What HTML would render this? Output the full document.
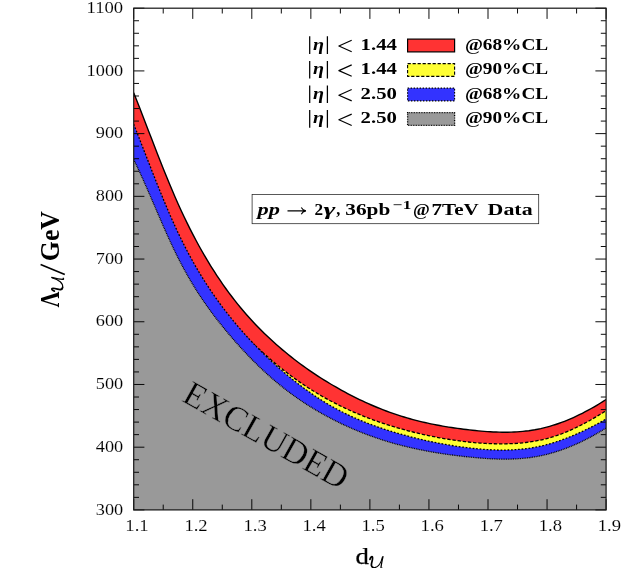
<!DOCTYPE html>
<html><head><meta charset="utf-8"><title>Unparticle exclusion plot</title>
<style>html,body{margin:0;padding:0;background:#fff;}svg{display:block;}text{font-family:"Liberation Serif",serif;fill:#000;}.b{font-weight:bold;}.i{font-style:italic;}</style></head><body>
<svg style="will-change:transform" width="623" height="568" viewBox="0 0 623 568">
<rect x="0" y="0" width="623" height="568" fill="#fff"/>
<defs><clipPath id="cp"><rect x="133.7" y="8.2" width="472.40" height="501.70"/></clipPath></defs>
<g clip-path="url(#cp)">
<path d="M133.70,92.71 L136.67,100.23 L139.64,107.83 L142.61,115.49 L145.58,123.18 L148.56,130.89 L151.53,138.60 L154.50,146.27 L157.47,153.90 L160.44,161.46 L163.41,168.93 L166.38,176.28 L169.35,183.50 L172.32,190.57 L175.29,197.46 L178.27,204.16 L181.24,210.67 L184.21,216.99 L187.18,223.13 L190.15,229.09 L193.12,234.88 L196.09,240.51 L199.06,245.97 L202.03,251.27 L205.01,256.41 L207.98,261.41 L210.95,266.26 L213.92,270.97 L216.89,275.54 L219.86,279.98 L222.83,284.29 L225.80,288.48 L228.77,292.56 L231.75,296.51 L234.72,300.36 L237.69,304.09 L240.66,307.72 L243.63,311.25 L246.60,314.69 L249.57,318.03 L252.54,321.28 L255.51,324.44 L258.48,327.52 L261.46,330.52 L264.43,333.45 L267.40,336.30 L270.37,339.08 L273.34,341.80 L276.31,344.46 L279.28,347.06 L282.25,349.60 L285.22,352.08 L288.20,354.51 L291.17,356.89 L294.14,359.21 L297.11,361.48 L300.08,363.70 L303.05,365.88 L306.02,368.01 L308.99,370.09 L311.96,372.13 L314.94,374.12 L317.91,376.07 L320.88,377.98 L323.85,379.86 L326.82,381.69 L329.79,383.49 L332.76,385.26 L335.73,386.98 L338.70,388.68 L341.67,390.34 L344.65,391.96 L347.62,393.55 L350.59,395.10 L353.56,396.62 L356.53,398.10 L359.50,399.55 L362.47,400.96 L365.44,402.34 L368.41,403.68 L371.39,404.99 L374.36,406.26 L377.33,407.49 L380.30,408.69 L383.27,409.86 L386.24,410.99 L389.21,412.08 L392.18,413.14 L395.15,414.16 L398.13,415.15 L401.10,416.10 L404.07,417.01 L407.04,417.90 L410.01,418.74 L412.98,419.56 L415.95,420.34 L418.92,421.09 L421.89,421.82 L424.86,422.51 L427.84,423.17 L430.81,423.81 L433.78,424.41 L436.75,425.00 L439.72,425.55 L442.69,426.08 L445.66,426.59 L448.63,427.08 L451.60,427.54 L454.58,427.98 L457.55,428.41 L460.52,428.81 L463.49,429.19 L466.46,429.56 L469.43,429.90 L472.40,430.24 L475.37,430.55 L478.34,430.84 L481.32,431.12 L484.29,431.36 L487.26,431.58 L490.23,431.78 L493.20,431.94 L496.17,432.07 L499.14,432.16 L502.11,432.22 L505.08,432.23 L508.05,432.21 L511.03,432.14 L514.00,432.03 L516.97,431.87 L519.94,431.65 L522.91,431.39 L525.88,431.07 L528.85,430.70 L531.82,430.26 L534.79,429.77 L537.77,429.21 L540.74,428.59 L543.71,427.90 L546.68,427.15 L549.65,426.33 L552.62,425.44 L555.59,424.50 L558.56,423.49 L561.53,422.42 L564.51,421.28 L567.48,420.09 L570.45,418.84 L573.42,417.53 L576.39,416.17 L579.36,414.74 L582.33,413.26 L585.30,411.73 L588.27,410.14 L591.24,408.49 L594.22,406.80 L597.19,405.05 L600.16,403.25 L603.13,401.40 L606.10,399.50 L606.10,509.90 L133.70,509.90 Z" fill="#ff3333"/>
<path d="M133.70,92.71 L136.67,100.23 L139.64,107.83 L142.61,115.49 L145.58,123.18 L148.56,130.89 L151.53,138.60 L154.50,146.27 L157.47,153.90 L160.44,161.46 L163.41,168.93 L166.38,176.28 L169.35,183.50 L172.32,190.57 L175.29,197.46 L178.27,204.16 L181.24,210.67 L184.21,216.99 L187.18,223.13 L190.15,229.09 L193.12,234.88 L196.09,240.51 L199.06,245.97 L202.03,251.27 L205.01,256.41 L207.98,261.41 L210.95,266.26 L213.92,270.97 L216.89,275.54 L219.86,279.98 L222.83,284.29 L225.80,288.48 L228.77,292.56 L231.75,296.51 L234.72,300.36 L237.69,304.09 L240.66,307.72 L243.63,311.25 L246.60,314.69 L249.57,318.03 L252.54,321.28 L255.51,324.44 L258.48,327.52 L261.46,330.52 L264.43,333.45 L267.40,336.30 L270.37,339.08 L273.34,341.80 L276.31,344.46 L279.28,347.06 L282.25,349.60 L285.22,352.08 L288.20,354.51 L291.17,356.89 L294.14,359.21 L297.11,361.48 L300.08,363.70 L303.05,365.88 L306.02,368.01 L308.99,370.09 L311.96,372.13 L314.94,374.12 L317.91,376.07 L320.88,377.98 L323.85,379.86 L326.82,381.69 L329.79,383.49 L332.76,385.26 L335.73,386.98 L338.70,388.68 L341.67,390.34 L344.65,391.96 L347.62,393.55 L350.59,395.10 L353.56,396.62 L356.53,398.10 L359.50,399.55 L362.47,400.96 L365.44,402.34 L368.41,403.68 L371.39,404.99 L374.36,406.26 L377.33,407.49 L380.30,408.69 L383.27,409.86 L386.24,410.99 L389.21,412.08 L392.18,413.14 L395.15,414.16 L398.13,415.15 L401.10,416.10 L404.07,417.01 L407.04,417.90 L410.01,418.74 L412.98,419.56 L415.95,420.34 L418.92,421.09 L421.89,421.82 L424.86,422.51 L427.84,423.17 L430.81,423.81 L433.78,424.41 L436.75,425.00 L439.72,425.55 L442.69,426.08 L445.66,426.59 L448.63,427.08 L451.60,427.54 L454.58,427.98 L457.55,428.41 L460.52,428.81 L463.49,429.19 L466.46,429.56 L469.43,429.90 L472.40,430.24 L475.37,430.55 L478.34,430.84 L481.32,431.12 L484.29,431.36 L487.26,431.58 L490.23,431.78 L493.20,431.94 L496.17,432.07 L499.14,432.16 L502.11,432.22 L505.08,432.23 L508.05,432.21 L511.03,432.14 L514.00,432.03 L516.97,431.87 L519.94,431.65 L522.91,431.39 L525.88,431.07 L528.85,430.70 L531.82,430.26 L534.79,429.77 L537.77,429.21 L540.74,428.59 L543.71,427.90 L546.68,427.15 L549.65,426.33 L552.62,425.44 L555.59,424.50 L558.56,423.49 L561.53,422.42 L564.51,421.28 L567.48,420.09 L570.45,418.84 L573.42,417.53 L576.39,416.17 L579.36,414.74 L582.33,413.26 L585.30,411.73 L588.27,410.14 L591.24,408.49 L594.22,406.80 L597.19,405.05 L600.16,403.25 L603.13,401.40 L606.10,399.50" fill="none" stroke="#000" stroke-width="1.4"/>
<path d="M236.00,326.21 L238.87,329.24 L241.74,332.22 L244.61,335.15 L247.48,338.04 L250.34,340.87 L253.21,343.66 L256.08,346.39 L258.95,349.08 L261.82,351.72 L264.69,354.31 L267.56,356.85 L270.43,359.34 L273.30,361.79 L276.17,364.18 L279.03,366.53 L281.90,368.84 L284.77,371.09 L287.64,373.30 L290.51,375.46 L293.38,377.57 L296.25,379.64 L299.12,381.65 L301.99,383.63 L304.86,385.55 L307.72,387.43 L310.59,389.27 L313.46,391.06 L316.33,392.82 L319.20,394.52 L322.07,396.19 L324.94,397.82 L327.81,399.40 L330.68,400.95 L333.55,402.46 L336.41,403.93 L339.28,405.37 L342.15,406.77 L345.02,408.14 L347.89,409.47 L350.76,410.77 L353.63,412.03 L356.50,413.27 L359.37,414.47 L362.24,415.64 L365.10,416.79 L367.97,417.90 L370.84,418.99 L373.71,420.05 L376.58,421.08 L379.45,422.09 L382.32,423.07 L385.19,424.03 L388.06,424.96 L390.93,425.86 L393.79,426.74 L396.66,427.60 L399.53,428.43 L402.40,429.24 L405.27,430.03 L408.14,430.79 L411.01,431.53 L413.88,432.25 L416.75,432.94 L419.62,433.62 L422.48,434.27 L425.35,434.91 L428.22,435.52 L431.09,436.11 L433.96,436.68 L436.83,437.24 L439.70,437.77 L442.57,438.29 L445.44,438.78 L448.31,439.26 L451.17,439.72 L454.04,440.15 L456.91,440.57 L459.78,440.96 L462.65,441.33 L465.52,441.68 L468.39,442.00 L471.26,442.30 L474.13,442.58 L477.00,442.83 L479.86,443.05 L482.73,443.25 L485.60,443.42 L488.47,443.57 L491.34,443.68 L494.21,443.77 L497.08,443.83 L499.95,443.86 L502.82,443.86 L505.69,443.82 L508.55,443.75 L511.42,443.65 L514.29,443.51 L517.16,443.32 L520.03,443.10 L522.90,442.83 L525.77,442.51 L528.64,442.15 L531.51,441.73 L534.38,441.26 L537.24,440.73 L540.11,440.15 L542.98,439.51 L545.85,438.81 L548.72,438.04 L551.59,437.21 L554.46,436.31 L557.33,435.35 L560.20,434.33 L563.07,433.24 L565.93,432.10 L568.80,430.90 L571.67,429.64 L574.54,428.32 L577.41,426.95 L580.28,425.53 L583.15,424.06 L586.02,422.53 L588.89,420.96 L591.76,419.35 L594.62,417.68 L597.49,415.97 L600.36,414.23 L603.23,412.43 L606.10,410.60 L606.10,509.90 L236.00,509.90 Z" fill="#ffff33"/>
<path d="M236.00,326.21 L238.87,329.24 L241.74,332.22 L244.61,335.15 L247.48,338.04 L250.34,340.87 L253.21,343.66 L256.08,346.39 L258.95,349.08 L261.82,351.72 L264.69,354.31 L267.56,356.85 L270.43,359.34 L273.30,361.79 L276.17,364.18 L279.03,366.53 L281.90,368.84 L284.77,371.09 L287.64,373.30 L290.51,375.46 L293.38,377.57 L296.25,379.64 L299.12,381.65 L301.99,383.63 L304.86,385.55 L307.72,387.43 L310.59,389.27 L313.46,391.06 L316.33,392.82 L319.20,394.52 L322.07,396.19 L324.94,397.82 L327.81,399.40 L330.68,400.95 L333.55,402.46 L336.41,403.93 L339.28,405.37 L342.15,406.77 L345.02,408.14 L347.89,409.47 L350.76,410.77 L353.63,412.03 L356.50,413.27 L359.37,414.47 L362.24,415.64 L365.10,416.79 L367.97,417.90 L370.84,418.99 L373.71,420.05 L376.58,421.08 L379.45,422.09 L382.32,423.07 L385.19,424.03 L388.06,424.96 L390.93,425.86 L393.79,426.74 L396.66,427.60 L399.53,428.43 L402.40,429.24 L405.27,430.03 L408.14,430.79 L411.01,431.53 L413.88,432.25 L416.75,432.94 L419.62,433.62 L422.48,434.27 L425.35,434.91 L428.22,435.52 L431.09,436.11 L433.96,436.68 L436.83,437.24 L439.70,437.77 L442.57,438.29 L445.44,438.78 L448.31,439.26 L451.17,439.72 L454.04,440.15 L456.91,440.57 L459.78,440.96 L462.65,441.33 L465.52,441.68 L468.39,442.00 L471.26,442.30 L474.13,442.58 L477.00,442.83 L479.86,443.05 L482.73,443.25 L485.60,443.42 L488.47,443.57 L491.34,443.68 L494.21,443.77 L497.08,443.83 L499.95,443.86 L502.82,443.86 L505.69,443.82 L508.55,443.75 L511.42,443.65 L514.29,443.51 L517.16,443.32 L520.03,443.10 L522.90,442.83 L525.77,442.51 L528.64,442.15 L531.51,441.73 L534.38,441.26 L537.24,440.73 L540.11,440.15 L542.98,439.51 L545.85,438.81 L548.72,438.04 L551.59,437.21 L554.46,436.31 L557.33,435.35 L560.20,434.33 L563.07,433.24 L565.93,432.10 L568.80,430.90 L571.67,429.64 L574.54,428.32 L577.41,426.95 L580.28,425.53 L583.15,424.06 L586.02,422.53 L588.89,420.96 L591.76,419.35 L594.62,417.68 L597.49,415.97 L600.36,414.23 L603.23,412.43 L606.10,410.60" fill="none" stroke="#000" stroke-width="1.3" stroke-dasharray="3.4 1.8"/>
<path d="M133.70,124.24 L136.67,131.78 L139.64,139.36 L142.61,146.98 L145.58,154.60 L148.56,162.22 L151.53,169.80 L154.50,177.33 L157.47,184.78 L160.44,192.14 L163.41,199.39 L166.38,206.50 L169.35,213.45 L172.32,220.22 L175.29,226.79 L178.27,233.15 L181.24,239.30 L184.21,245.25 L187.18,251.00 L190.15,256.56 L193.12,261.95 L196.09,267.16 L199.06,272.21 L202.03,277.09 L205.01,281.83 L207.98,286.43 L210.95,290.89 L213.92,295.22 L216.89,299.43 L219.86,303.53 L222.83,307.52 L225.80,311.42 L228.77,315.22 L231.75,318.93 L234.72,322.56 L237.69,326.10 L240.66,329.56 L243.63,332.95 L246.60,336.25 L249.57,339.48 L252.54,342.64 L255.51,345.73 L258.48,348.76 L261.46,351.72 L264.43,354.62 L267.40,357.46 L270.37,360.25 L273.34,362.98 L276.31,365.66 L279.28,368.29 L282.25,370.88 L285.22,373.41 L288.20,375.89 L291.17,378.32 L294.14,380.70 L297.11,383.03 L300.08,385.31 L303.05,387.54 L306.02,389.71 L308.99,391.83 L311.96,393.90 L314.94,395.92 L317.91,397.89 L320.88,399.80 L323.85,401.66 L326.82,403.46 L329.79,405.21 L332.76,406.91 L335.73,408.55 L338.70,410.14 L341.67,411.68 L344.65,413.18 L347.62,414.62 L350.59,416.02 L353.56,417.38 L356.53,418.69 L359.50,419.96 L362.47,421.19 L365.44,422.39 L368.41,423.54 L371.39,424.66 L374.36,425.75 L377.33,426.81 L380.30,427.83 L383.27,428.82 L386.24,429.79 L389.21,430.73 L392.18,431.64 L395.15,432.53 L398.13,433.39 L401.10,434.24 L404.07,435.07 L407.04,435.87 L410.01,436.66 L412.98,437.42 L415.95,438.16 L418.92,438.89 L421.89,439.59 L424.86,440.27 L427.84,440.93 L430.81,441.57 L433.78,442.19 L436.75,442.79 L439.72,443.37 L442.69,443.92 L445.66,444.46 L448.63,444.97 L451.60,445.46 L454.58,445.93 L457.55,446.38 L460.52,446.80 L463.49,447.21 L466.46,447.59 L469.43,447.95 L472.40,448.28 L475.37,448.60 L478.34,448.89 L481.32,449.15 L484.29,449.38 L487.26,449.58 L490.23,449.75 L493.20,449.88 L496.17,449.99 L499.14,450.05 L502.11,450.07 L505.08,450.06 L508.05,450.00 L511.03,449.90 L514.00,449.75 L516.97,449.56 L519.94,449.31 L522.91,449.02 L525.88,448.67 L528.85,448.27 L531.82,447.82 L534.79,447.30 L537.77,446.73 L540.74,446.10 L543.71,445.41 L546.68,444.65 L549.65,443.84 L552.62,442.97 L555.59,442.04 L558.56,441.06 L561.53,440.03 L564.51,438.94 L567.48,437.81 L570.45,436.62 L573.42,435.39 L576.39,434.11 L579.36,432.79 L582.33,431.42 L585.30,430.01 L588.27,428.56 L591.24,427.07 L594.22,425.54 L597.19,423.98 L600.16,422.38 L603.13,420.74 L606.10,419.08 L606.10,509.90 L133.70,509.90 Z" fill="#3333ff"/>
<path d="M133.70,124.24 L136.67,131.78 L139.64,139.36 L142.61,146.98 L145.58,154.60 L148.56,162.22 L151.53,169.80 L154.50,177.33 L157.47,184.78 L160.44,192.14 L163.41,199.39 L166.38,206.50 L169.35,213.45 L172.32,220.22 L175.29,226.79 L178.27,233.15 L181.24,239.30 L184.21,245.25 L187.18,251.00 L190.15,256.56 L193.12,261.95 L196.09,267.16 L199.06,272.21 L202.03,277.09 L205.01,281.83 L207.98,286.43 L210.95,290.89 L213.92,295.22 L216.89,299.43 L219.86,303.53 L222.83,307.52 L225.80,311.42 L228.77,315.22 L231.75,318.93 L234.72,322.56 L237.69,326.10 L240.66,329.56 L243.63,332.95 L246.60,336.25 L249.57,339.48 L252.54,342.64 L255.51,345.73 L258.48,348.76 L261.46,351.72 L264.43,354.62 L267.40,357.46 L270.37,360.25 L273.34,362.98 L276.31,365.66 L279.28,368.29 L282.25,370.88 L285.22,373.41 L288.20,375.89 L291.17,378.32 L294.14,380.70 L297.11,383.03 L300.08,385.31 L303.05,387.54 L306.02,389.71 L308.99,391.83 L311.96,393.90 L314.94,395.92 L317.91,397.89 L320.88,399.80 L323.85,401.66 L326.82,403.46 L329.79,405.21 L332.76,406.91 L335.73,408.55 L338.70,410.14 L341.67,411.68 L344.65,413.18 L347.62,414.62 L350.59,416.02 L353.56,417.38 L356.53,418.69 L359.50,419.96 L362.47,421.19 L365.44,422.39 L368.41,423.54 L371.39,424.66 L374.36,425.75 L377.33,426.81 L380.30,427.83 L383.27,428.82 L386.24,429.79 L389.21,430.73 L392.18,431.64 L395.15,432.53 L398.13,433.39 L401.10,434.24 L404.07,435.07 L407.04,435.87 L410.01,436.66 L412.98,437.42 L415.95,438.16 L418.92,438.89 L421.89,439.59 L424.86,440.27 L427.84,440.93 L430.81,441.57 L433.78,442.19 L436.75,442.79 L439.72,443.37 L442.69,443.92 L445.66,444.46 L448.63,444.97 L451.60,445.46 L454.58,445.93 L457.55,446.38 L460.52,446.80 L463.49,447.21 L466.46,447.59 L469.43,447.95 L472.40,448.28 L475.37,448.60 L478.34,448.89 L481.32,449.15 L484.29,449.38 L487.26,449.58 L490.23,449.75 L493.20,449.88 L496.17,449.99 L499.14,450.05 L502.11,450.07 L505.08,450.06 L508.05,450.00 L511.03,449.90 L514.00,449.75 L516.97,449.56 L519.94,449.31 L522.91,449.02 L525.88,448.67 L528.85,448.27 L531.82,447.82 L534.79,447.30 L537.77,446.73 L540.74,446.10 L543.71,445.41 L546.68,444.65 L549.65,443.84 L552.62,442.97 L555.59,442.04 L558.56,441.06 L561.53,440.03 L564.51,438.94 L567.48,437.81 L570.45,436.62 L573.42,435.39 L576.39,434.11 L579.36,432.79 L582.33,431.42 L585.30,430.01 L588.27,428.56 L591.24,427.07 L594.22,425.54 L597.19,423.98 L600.16,422.38 L603.13,420.74 L606.10,419.08" fill="none" stroke="#000" stroke-width="1.3" stroke-dasharray="1.7 1.8"/>
<path d="M133.70,159.50 L136.67,165.64 L139.64,171.99 L142.61,178.52 L145.58,185.20 L148.56,191.98 L151.53,198.83 L154.50,205.72 L157.47,212.62 L160.44,219.49 L163.41,226.30 L166.38,233.00 L169.35,239.57 L172.32,245.98 L175.29,252.19 L178.27,258.17 L181.24,263.92 L184.21,269.47 L187.18,274.81 L190.15,279.96 L193.12,284.93 L196.09,289.73 L199.06,294.37 L202.03,298.85 L205.01,303.19 L207.98,307.40 L210.95,311.49 L213.92,315.46 L216.89,319.33 L219.86,323.11 L222.83,326.80 L225.80,330.42 L228.77,333.98 L231.75,337.47 L234.72,340.89 L237.69,344.25 L240.66,347.55 L243.63,350.77 L246.60,353.94 L249.57,357.03 L252.54,360.07 L255.51,363.04 L258.48,365.94 L261.46,368.78 L264.43,371.55 L267.40,374.26 L270.37,376.91 L273.34,379.49 L276.31,382.01 L279.28,384.47 L282.25,386.86 L285.22,389.19 L288.20,391.47 L291.17,393.68 L294.14,395.84 L297.11,397.95 L300.08,400.00 L303.05,402.00 L306.02,403.94 L308.99,405.84 L311.96,407.69 L314.94,409.49 L317.91,411.24 L320.88,412.96 L323.85,414.62 L326.82,416.25 L329.79,417.84 L332.76,419.38 L335.73,420.89 L338.70,422.36 L341.67,423.79 L344.65,425.19 L347.62,426.55 L350.59,427.87 L353.56,429.16 L356.53,430.41 L359.50,431.63 L362.47,432.81 L365.44,433.96 L368.41,435.08 L371.39,436.16 L374.36,437.22 L377.33,438.24 L380.30,439.23 L383.27,440.18 L386.24,441.11 L389.21,442.01 L392.18,442.88 L395.15,443.72 L398.13,444.53 L401.10,445.31 L404.07,446.07 L407.04,446.80 L410.01,447.50 L412.98,448.18 L415.95,448.83 L418.92,449.46 L421.89,450.07 L424.86,450.65 L427.84,451.21 L430.81,451.75 L433.78,452.27 L436.75,452.76 L439.72,453.24 L442.69,453.69 L445.66,454.13 L448.63,454.55 L451.60,454.96 L454.58,455.34 L457.55,455.71 L460.52,456.06 L463.49,456.40 L466.46,456.73 L469.43,457.04 L472.40,457.33 L475.37,457.62 L478.34,457.88 L481.32,458.13 L484.29,458.35 L487.26,458.55 L490.23,458.73 L493.20,458.88 L496.17,458.99 L499.14,459.08 L502.11,459.13 L505.08,459.15 L508.05,459.13 L511.03,459.07 L514.00,458.96 L516.97,458.81 L519.94,458.62 L522.91,458.37 L525.88,458.08 L528.85,457.73 L531.82,457.32 L534.79,456.86 L537.77,456.34 L540.74,455.76 L543.71,455.11 L546.68,454.40 L549.65,453.63 L552.62,452.80 L555.59,451.91 L558.56,450.96 L561.53,449.94 L564.51,448.87 L567.48,447.74 L570.45,446.55 L573.42,445.31 L576.39,444.01 L579.36,442.65 L582.33,441.23 L585.30,439.77 L588.27,438.24 L591.24,436.66 L594.22,435.03 L597.19,433.35 L600.16,431.61 L603.13,429.83 L606.10,427.99 L606.10,509.90 L133.70,509.90 Z" fill="#999999"/>
<path d="M133.70,159.50 L136.67,165.64 L139.64,171.99 L142.61,178.52 L145.58,185.20 L148.56,191.98 L151.53,198.83 L154.50,205.72 L157.47,212.62 L160.44,219.49 L163.41,226.30 L166.38,233.00 L169.35,239.57 L172.32,245.98 L175.29,252.19 L178.27,258.17 L181.24,263.92 L184.21,269.47 L187.18,274.81 L190.15,279.96 L193.12,284.93 L196.09,289.73 L199.06,294.37 L202.03,298.85 L205.01,303.19 L207.98,307.40 L210.95,311.49 L213.92,315.46 L216.89,319.33 L219.86,323.11 L222.83,326.80 L225.80,330.42 L228.77,333.98 L231.75,337.47 L234.72,340.89 L237.69,344.25 L240.66,347.55 L243.63,350.77 L246.60,353.94 L249.57,357.03 L252.54,360.07 L255.51,363.04 L258.48,365.94 L261.46,368.78 L264.43,371.55 L267.40,374.26 L270.37,376.91 L273.34,379.49 L276.31,382.01 L279.28,384.47 L282.25,386.86 L285.22,389.19 L288.20,391.47 L291.17,393.68 L294.14,395.84 L297.11,397.95 L300.08,400.00 L303.05,402.00 L306.02,403.94 L308.99,405.84 L311.96,407.69 L314.94,409.49 L317.91,411.24 L320.88,412.96 L323.85,414.62 L326.82,416.25 L329.79,417.84 L332.76,419.38 L335.73,420.89 L338.70,422.36 L341.67,423.79 L344.65,425.19 L347.62,426.55 L350.59,427.87 L353.56,429.16 L356.53,430.41 L359.50,431.63 L362.47,432.81 L365.44,433.96 L368.41,435.08 L371.39,436.16 L374.36,437.22 L377.33,438.24 L380.30,439.23 L383.27,440.18 L386.24,441.11 L389.21,442.01 L392.18,442.88 L395.15,443.72 L398.13,444.53 L401.10,445.31 L404.07,446.07 L407.04,446.80 L410.01,447.50 L412.98,448.18 L415.95,448.83 L418.92,449.46 L421.89,450.07 L424.86,450.65 L427.84,451.21 L430.81,451.75 L433.78,452.27 L436.75,452.76 L439.72,453.24 L442.69,453.69 L445.66,454.13 L448.63,454.55 L451.60,454.96 L454.58,455.34 L457.55,455.71 L460.52,456.06 L463.49,456.40 L466.46,456.73 L469.43,457.04 L472.40,457.33 L475.37,457.62 L478.34,457.88 L481.32,458.13 L484.29,458.35 L487.26,458.55 L490.23,458.73 L493.20,458.88 L496.17,458.99 L499.14,459.08 L502.11,459.13 L505.08,459.15 L508.05,459.13 L511.03,459.07 L514.00,458.96 L516.97,458.81 L519.94,458.62 L522.91,458.37 L525.88,458.08 L528.85,457.73 L531.82,457.32 L534.79,456.86 L537.77,456.34 L540.74,455.76 L543.71,455.11 L546.68,454.40 L549.65,453.63 L552.62,452.80 L555.59,451.91 L558.56,450.96 L561.53,449.94 L564.51,448.87 L567.48,447.74 L570.45,446.55 L573.42,445.31 L576.39,444.01 L579.36,442.65 L582.33,441.23 L585.30,439.77 L588.27,438.24 L591.24,436.66 L594.22,435.03 L597.19,433.35 L600.16,431.61 L603.13,429.83 L606.10,427.99" fill="none" stroke="#000" stroke-width="1.3" stroke-dasharray="0.9 0.85"/>
</g>
<path d="M133.70,509.90h10.7 M606.10,509.90h-10.7 M133.70,497.36h5.3 M606.10,497.36h-5.3 M133.70,484.81h5.3 M606.10,484.81h-5.3 M133.70,472.27h5.3 M606.10,472.27h-5.3 M133.70,459.73h5.3 M606.10,459.73h-5.3 M133.70,447.19h10.7 M606.10,447.19h-10.7 M133.70,434.64h5.3 M606.10,434.64h-5.3 M133.70,422.10h5.3 M606.10,422.10h-5.3 M133.70,409.56h5.3 M606.10,409.56h-5.3 M133.70,397.02h5.3 M606.10,397.02h-5.3 M133.70,384.47h10.7 M606.10,384.47h-10.7 M133.70,371.93h5.3 M606.10,371.93h-5.3 M133.70,359.39h5.3 M606.10,359.39h-5.3 M133.70,346.85h5.3 M606.10,346.85h-5.3 M133.70,334.31h5.3 M606.10,334.31h-5.3 M133.70,321.76h10.7 M606.10,321.76h-10.7 M133.70,309.22h5.3 M606.10,309.22h-5.3 M133.70,296.68h5.3 M606.10,296.68h-5.3 M133.70,284.13h5.3 M606.10,284.13h-5.3 M133.70,271.59h5.3 M606.10,271.59h-5.3 M133.70,259.05h10.7 M606.10,259.05h-10.7 M133.70,246.51h5.3 M606.10,246.51h-5.3 M133.70,233.96h5.3 M606.10,233.96h-5.3 M133.70,221.42h5.3 M606.10,221.42h-5.3 M133.70,208.88h5.3 M606.10,208.88h-5.3 M133.70,196.34h10.7 M606.10,196.34h-10.7 M133.70,183.79h5.3 M606.10,183.79h-5.3 M133.70,171.25h5.3 M606.10,171.25h-5.3 M133.70,158.71h5.3 M606.10,158.71h-5.3 M133.70,146.17h5.3 M606.10,146.17h-5.3 M133.70,133.62h10.7 M606.10,133.62h-10.7 M133.70,121.08h5.3 M606.10,121.08h-5.3 M133.70,108.54h5.3 M606.10,108.54h-5.3 M133.70,96.00h5.3 M606.10,96.00h-5.3 M133.70,83.45h5.3 M606.10,83.45h-5.3 M133.70,70.91h10.7 M606.10,70.91h-10.7 M133.70,58.37h5.3 M606.10,58.37h-5.3 M133.70,45.83h5.3 M606.10,45.83h-5.3 M133.70,33.28h5.3 M606.10,33.28h-5.3 M133.70,20.74h5.3 M606.10,20.74h-5.3 M133.70,8.20h10.7 M606.10,8.20h-10.7 M133.70,509.90v-10.7 M133.70,8.20v10.7 M163.23,509.90v-5.3 M163.23,8.20v5.3 M192.75,509.90v-10.7 M192.75,8.20v10.7 M222.27,509.90v-5.3 M222.27,8.20v5.3 M251.80,509.90v-10.7 M251.80,8.20v10.7 M281.32,509.90v-5.3 M281.32,8.20v5.3 M310.85,509.90v-10.7 M310.85,8.20v10.7 M340.38,509.90v-5.3 M340.38,8.20v5.3 M369.90,509.90v-10.7 M369.90,8.20v10.7 M399.42,509.90v-5.3 M399.42,8.20v5.3 M428.95,509.90v-10.7 M428.95,8.20v10.7 M458.48,509.90v-5.3 M458.48,8.20v5.3 M488.00,509.90v-10.7 M488.00,8.20v10.7 M517.52,509.90v-5.3 M517.52,8.20v5.3 M547.05,509.90v-10.7 M547.05,8.20v10.7 M576.58,509.90v-5.3 M576.58,8.20v5.3 M606.10,509.90v-10.7 M606.10,8.20v10.7" stroke="#000" stroke-width="0.95" fill="none"/>
<rect x="133.7" y="8.2" width="472.40" height="501.70" fill="none" stroke="#1c1c1c" stroke-width="1.25"/>
<text x="123.2" y="514.50" font-size="16.5" text-anchor="end" textLength="27.4" lengthAdjust="spacingAndGlyphs" stroke="#fff" stroke-width="0.1">300</text>
<text x="123.2" y="451.79" font-size="16.5" text-anchor="end" textLength="27.4" lengthAdjust="spacingAndGlyphs" stroke="#fff" stroke-width="0.1">400</text>
<text x="123.2" y="389.07" font-size="16.5" text-anchor="end" textLength="27.4" lengthAdjust="spacingAndGlyphs" stroke="#fff" stroke-width="0.1">500</text>
<text x="123.2" y="326.36" font-size="16.5" text-anchor="end" textLength="27.4" lengthAdjust="spacingAndGlyphs" stroke="#fff" stroke-width="0.1">600</text>
<text x="123.2" y="263.65" font-size="16.5" text-anchor="end" textLength="27.4" lengthAdjust="spacingAndGlyphs" stroke="#fff" stroke-width="0.1">700</text>
<text x="123.2" y="200.94" font-size="16.5" text-anchor="end" textLength="27.4" lengthAdjust="spacingAndGlyphs" stroke="#fff" stroke-width="0.1">800</text>
<text x="123.2" y="138.22" font-size="16.5" text-anchor="end" textLength="27.4" lengthAdjust="spacingAndGlyphs" stroke="#fff" stroke-width="0.1">900</text>
<text x="123.2" y="75.51" font-size="16.5" text-anchor="end" textLength="36.6" lengthAdjust="spacingAndGlyphs" stroke="#fff" stroke-width="0.1">1000</text>
<text x="123.2" y="12.80" font-size="16.5" text-anchor="end" textLength="36.6" lengthAdjust="spacingAndGlyphs" stroke="#fff" stroke-width="0.1">1100</text>
<text x="137.00" y="531" font-size="16.5" text-anchor="middle" textLength="23.3" lengthAdjust="spacingAndGlyphs" stroke="#fff" stroke-width="0.1">1.1</text>
<text x="196.05" y="531" font-size="16.5" text-anchor="middle" textLength="23.3" lengthAdjust="spacingAndGlyphs" stroke="#fff" stroke-width="0.1">1.2</text>
<text x="255.10" y="531" font-size="16.5" text-anchor="middle" textLength="23.3" lengthAdjust="spacingAndGlyphs" stroke="#fff" stroke-width="0.1">1.3</text>
<text x="314.15" y="531" font-size="16.5" text-anchor="middle" textLength="23.3" lengthAdjust="spacingAndGlyphs" stroke="#fff" stroke-width="0.1">1.4</text>
<text x="373.20" y="531" font-size="16.5" text-anchor="middle" textLength="23.3" lengthAdjust="spacingAndGlyphs" stroke="#fff" stroke-width="0.1">1.5</text>
<text x="432.25" y="531" font-size="16.5" text-anchor="middle" textLength="23.3" lengthAdjust="spacingAndGlyphs" stroke="#fff" stroke-width="0.1">1.6</text>
<text x="491.30" y="531" font-size="16.5" text-anchor="middle" textLength="23.3" lengthAdjust="spacingAndGlyphs" stroke="#fff" stroke-width="0.1">1.7</text>
<text x="550.35" y="531" font-size="16.5" text-anchor="middle" textLength="23.3" lengthAdjust="spacingAndGlyphs" stroke="#fff" stroke-width="0.1">1.8</text>
<text x="609.40" y="531" font-size="16.5" text-anchor="middle" textLength="23.3" lengthAdjust="spacingAndGlyphs" stroke="#fff" stroke-width="0.1">1.9</text>
<text x="355.6" y="564" font-size="23.6" textLength="13.4" lengthAdjust="spacingAndGlyphs" stroke="#000" stroke-width="0.25">d</text>
<g transform="translate(369.7,567.6)"><path d="M0.3,-8.3C0.9,-10.2 1.9,-11.1 2.6,-10.8C3.4,-10.3 2.7,-7.5 2.1,-5.2C1.5,-2.9 1.3,-0.5 3.7,-0.1" stroke="#000" stroke-width="1.75" fill="none" stroke-linecap="round"/><path d="M3.7,-0.1C7.6,0.7 11.2,-3.6 12.9,-10.9" stroke="#000" stroke-width="1.15" fill="none"/><path d="M13.3,-11C12.4,-7 11.6,-3 11.3,-0.2C11.2,0.9 11.7,1.3 12.4,0.5" stroke="#000" stroke-width="1.25" fill="none" stroke-linecap="round"/></g>
<g transform="translate(59,307.8) rotate(-90)"><text class="b" x="0.2" y="0" font-size="26.3" textLength="16" lengthAdjust="spacingAndGlyphs">&#923;</text><g transform="translate(16.4,3.7) scale(1.06,1)"><path d="M0.3,-8.3C0.9,-10.2 1.9,-11.1 2.6,-10.8C3.4,-10.3 2.7,-7.5 2.1,-5.2C1.5,-2.9 1.3,-0.5 3.7,-0.1" stroke="#000" stroke-width="1.75" fill="none" stroke-linecap="round"/><path d="M3.7,-0.1C7.6,0.7 11.2,-3.6 12.9,-10.9" stroke="#000" stroke-width="1.15" fill="none"/><path d="M13.3,-11C12.4,-7 11.6,-3 11.3,-0.2C11.2,0.9 11.7,1.3 12.4,0.5" stroke="#000" stroke-width="1.25" fill="none" stroke-linecap="round"/></g><path d="M33.3,5.8L43.3,-18.4" stroke="#000" stroke-width="1.6" fill="none"/><text class="b" x="46.6" y="0" font-size="26.3" textLength="50.2" lengthAdjust="spacingAndGlyphs">GeV</text></g>
<path d="M309.7,36.3V53.9 M327.4,36.3V53.9" stroke="#000" stroke-width="1.25" fill="none"/>
<text class="b i" x="312.9" y="49.5" font-size="16.2" textLength="11" lengthAdjust="spacingAndGlyphs">&#951;</text>
<path d="M351.7,40.3L338.9,46.0L351.7,51.7" stroke="#000" stroke-width="1.2" fill="none" stroke-linejoin="round"/>
<text class="b" x="360.6" y="49.5" font-size="16.2" textLength="36.3" lengthAdjust="spacingAndGlyphs">1.44</text>
<rect x="407.6" y="39.1" width="47" height="12.8" fill="#ff3333" stroke="#000" stroke-width="1.2"/>
<text class="b" x="464.9" y="49.5" font-size="16.2" textLength="83.3" lengthAdjust="spacingAndGlyphs">@68%CL</text>
<path d="M309.7,60.9V78.5 M327.4,60.9V78.5" stroke="#000" stroke-width="1.25" fill="none"/>
<text class="b i" x="312.9" y="74.1" font-size="16.2" textLength="11" lengthAdjust="spacingAndGlyphs">&#951;</text>
<path d="M351.7,64.9L338.9,70.6L351.7,76.3" stroke="#000" stroke-width="1.2" fill="none" stroke-linejoin="round"/>
<text class="b" x="360.6" y="74.1" font-size="16.2" textLength="36.3" lengthAdjust="spacingAndGlyphs">1.44</text>
<rect x="407.6" y="63.6" width="47" height="12.8" fill="#ffff33" stroke="#000" stroke-width="1.1" stroke-dasharray="3.2 1.8"/>
<text class="b" x="464.9" y="74.1" font-size="16.2" textLength="83.3" lengthAdjust="spacingAndGlyphs">@90%CL</text>
<path d="M309.7,85.5V103.1 M327.4,85.5V103.1" stroke="#000" stroke-width="1.25" fill="none"/>
<text class="b i" x="312.9" y="98.7" font-size="16.2" textLength="11" lengthAdjust="spacingAndGlyphs">&#951;</text>
<path d="M351.7,89.5L338.9,95.2L351.7,100.9" stroke="#000" stroke-width="1.2" fill="none" stroke-linejoin="round"/>
<text class="b" x="360.6" y="98.7" font-size="16.2" textLength="36.3" lengthAdjust="spacingAndGlyphs">2.50</text>
<rect x="407.6" y="88.1" width="47" height="12.8" fill="#3333ff" stroke="#000" stroke-width="1.1" stroke-dasharray="1.5 1.5"/>
<text class="b" x="464.9" y="98.7" font-size="16.2" textLength="83.3" lengthAdjust="spacingAndGlyphs">@68%CL</text>
<path d="M309.7,110.1V127.7 M327.4,110.1V127.7" stroke="#000" stroke-width="1.25" fill="none"/>
<text class="b i" x="312.9" y="123.3" font-size="16.2" textLength="11" lengthAdjust="spacingAndGlyphs">&#951;</text>
<path d="M351.7,114.1L338.9,119.8L351.7,125.5" stroke="#000" stroke-width="1.2" fill="none" stroke-linejoin="round"/>
<text class="b" x="360.6" y="123.3" font-size="16.2" textLength="36.3" lengthAdjust="spacingAndGlyphs">2.50</text>
<rect x="407.6" y="112.6" width="47" height="12.8" fill="#999999" stroke="#000" stroke-width="1.3" stroke-dasharray="0.85 0.8"/>
<text class="b" x="464.9" y="123.3" font-size="16.2" textLength="83.3" lengthAdjust="spacingAndGlyphs">@90%CL</text>
<rect x="252.1" y="194.6" width="286.6" height="29.1" fill="#fff" stroke="#222" stroke-width="0.75"/>
<text class="b i" x="257.5" y="215.2" font-size="16.2" textLength="22.3" lengthAdjust="spacingAndGlyphs">pp</text>
<path d="M287.5,210.89999999999998H305.5 M301.3,207.6q1.2,2.5 4.6,3.3q-3.4,0.8 -4.6,3.3" stroke="#000" stroke-width="1.1" fill="none"/>
<text class="b" x="314.5" y="215.2" font-size="16.2" textLength="8.6" lengthAdjust="spacingAndGlyphs">2</text>
<text class="b i" x="323.4" y="215.2" font-size="16.2" textLength="12" lengthAdjust="spacingAndGlyphs">&#947;</text>
<text class="b" x="336.3" y="215.2" font-size="16.2">,</text>
<text class="b" x="345.3" y="215.2" font-size="16.2" textLength="45" lengthAdjust="spacingAndGlyphs">36pb</text>
<text class="b" x="392.9" y="208.79999999999998" font-size="12.2" textLength="18.4" lengthAdjust="spacingAndGlyphs">&#8722;1</text>
<text class="b" x="412.9" y="215.2" font-size="16.2" textLength="16.8" lengthAdjust="spacingAndGlyphs">@</text>
<text class="b" x="431.5" y="215.2" font-size="16.2" textLength="47.2" lengthAdjust="spacingAndGlyphs">7TeV</text>
<text class="b" x="487.6" y="215.2" font-size="16.2" textLength="45" lengthAdjust="spacingAndGlyphs">Data</text>
<g transform="translate(180.8,400.6) rotate(29.3)"><text x="0" y="0" font-size="35" textLength="183" lengthAdjust="spacingAndGlyphs" stroke="#999999" stroke-width="0.4">EXCLUDED</text></g>
</svg></body></html>
